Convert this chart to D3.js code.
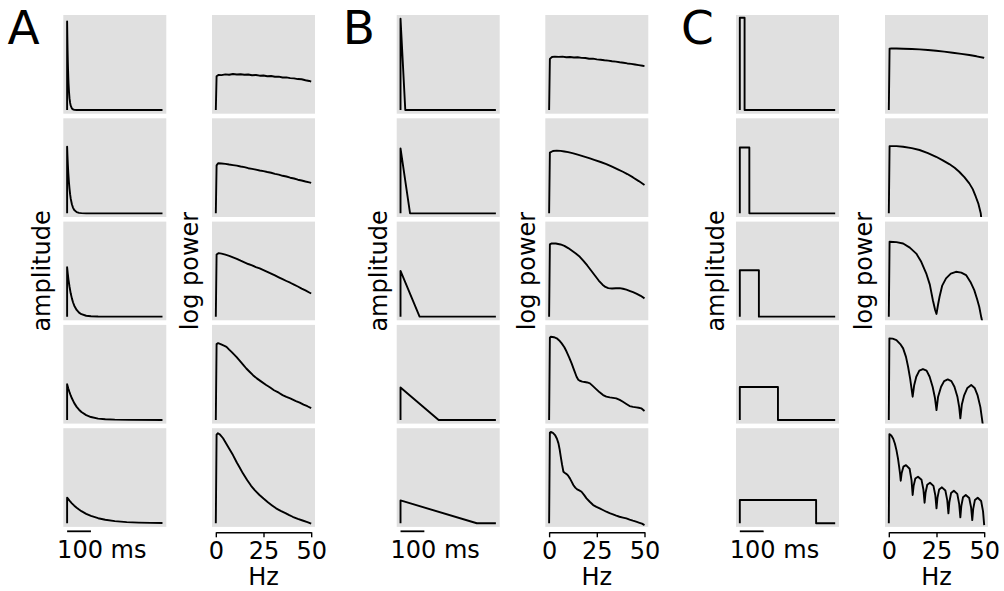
<!DOCTYPE html>
<html><head>
<meta charset="utf-8">
<title>kernels and spectra</title>
<script src="https://d3js.org/d3.v7.min.js"></script>
<style>
  body { margin: 0; background: white; }
  svg { display: block; font-family: "DejaVu Sans", sans-serif; }
  .panel { fill: #e0e0e0; }
  .trace { fill: none; stroke: black; stroke-width: 1.9px; stroke-linejoin: round; }
  .lbl { font-size: 24px; fill: black; }
  .big { font-size: 47px; fill: black; }
</style>
</head>
<body>
<svg id="fig" width="1004" height="591"></svg>
<script>

// ---- data ----
const groupNames = ["A", "B", "C"];
const freqTicks = [0, 25, 50];
const scaleBarMs = 100;

// time domain, [ms, amplitude]
const ampA = [
  [[0,0],[0,.97],[1,.8],[2,.65],[3,.53],[4,.436],[5,.357],[6,.29],[8,.196],[10,.13],[12.5,.08],[15,.048],[20,.018],[25,.007],[30,.002],[40,0],[400,0]],
  [[0,0],[0,.73],[1.5,.63],[3,.54],[5,.44],[7.5,.345],[10,.27],[12.5,.21],[15,.163],[20,.099],[25,.06],[30,.036],[40,.013],[50,.005],[60,.002],[80,0],[400,0]],
  [[0,0],[0,.54],[3,.465],[6,.40],[10,.33],[15,.255],[20,.20],[25,.155],[30,.12],[40,.073],[50,.044],[60,.027],[80,.01],[100,.004],[130,.001],[160,0],[400,0]],
  [[0,0],[0,.39],[5,.344],[10,.304],[15,.268],[20,.237],[30,.184],[40,.143],[50,.112],[60,.087],[80,.053],[100,.032],[130,.015],[160,.007],[200,.003],[260,.001],[400,0]],
  [[0,0],[0,.28],[10,.247],[20,.218],[30,.192],[40,.17],[50,.15],[60,.132],[80,.103],[100,.08],[130,.055],[160,.038],[200,.023],[250,.012],[300,.007],[350,.004],[400,.002]]
];
const ampB = [
  [[0,0],[0,1],[20,0],[400,0]],
  [[0,0],[0,.71],[40,0],[400,0]],
  [[0,0],[0,.5],[80,0],[400,0]],
  [[0,0],[0,.355],[160,0],[400,0]],
  [[0,0],[0,.25],[320,0],[400,0]]
];
const ampC = [
  [[0,0],[0,1.01],[20,1.01],[20,0],[400,0]],
  [[0,0],[0,.72],[40,.72],[40,0],[400,0]],
  [[0,0],[0,.507],[80,.507],[80,0],[400,0]],
  [[0,0],[0,.36],[160,.36],[160,0],[400,0]],
  [[0,0],[0,.255],[320,.255],[320,0],[400,0]]
];

// log power, [Hz, relative log power]
const powA = [
  [[0,0],[0.4,.37],[1.5,.385],[3,.382],[5,.39],[7,.386],[9,.394],[11,.389],[13,.392],[15,.386],[17,.389],[19,.381],[21,.384],[23,.376],[25,.378],[27,.37],[29,.372],[31,.364],[33,.366],[35,.356],[37,.357],[39,.349],[41,.347],[43,.339],[45,.337],[47,.326],[49,.318],[50,.31]],
  [[0,0],[0.4,.525],[1.2,.548],[3,.545],[5,.541],[7,.534],[9,.528],[11,.522],[13,.513],[15,.506],[17,.494],[19,.487],[21,.478],[23,.469],[25,.462],[27,.452],[29,.444],[31,.432],[33,.424],[35,.411],[37,.403],[39,.39],[41,.381],[43,.368],[45,.359],[47,.348],[49,.339],[50,.333]],
  [[0,0],[0.4,.68],[1.5,.695],[3,.69],[5,.678],[7,.665],[9,.648],[11,.632],[13,.612],[15,.594],[17,.576],[19,.562],[21,.543],[23,.527],[25,.508],[27,.49],[29,.47],[31,.451],[33,.43],[35,.41],[37,.39],[39,.371],[41,.35],[43,.33],[45,.307],[47,.287],[49,.264],[50,.253]],
  [[0,0],[0.4,.83],[1.2,.84],[2.5,.83],[4,.815],[5.6,.80],[7,.77],[8.5,.74],[10.8,.69],[12.5,.65],[14.5,.6],[16,.563],[17.7,.527],[19.5,.49],[21.5,.455],[23.5,.425],[26.4,.382],[28.5,.355],[30.5,.325],[33,.298],[35,.272],[37,.252],[39,.235],[42,.207],[44,.19],[46,.168],[48,.15],[50,.13]],
  [[0,0],[0.4,.97],[1.1,.985],[2.2,.97],[3.8,.93],[5.5,.87],[7.2,.81],[9,.746],[11,.665],[12.5,.61],[14.2,.546],[16.5,.47],[18.5,.41],[20.5,.36],[22.9,.309],[25,.27],[27.3,.23],[29.5,.195],[31.6,.163],[34,.135],[36.5,.11],[38.5,.088],[40.3,.071],[43,.048],[45.5,.03],[48,.012],[50,-.005]]
];
const powB = [
  [[0,0],[0.4,.56],[1.5,.58],[3,.585],[5,.582],[7,.584],[9,.578],[11,.581],[13,.575],[15,.577],[17,.571],[19,.569],[21,.561],[23,.563],[25,.554],[27,.551],[29,.545],[31,.541],[33,.534],[35,.53],[37,.523],[39,.518],[41,.51],[43,.505],[45,.499],[47,.492],[49,.485],[50,.481]],
  [[0,0],[0.4,.665],[2,.682],[4,.686],[6,.684],[8,.677],[10,.67],[12.7,.656],[15,.642],[18,.624],[21.4,.602],[24,.583],[27,.562],[30,.539],[33,.51],[36,.482],[38.7,.455],[41,.43],[44,.393],[47,.353],[50,.31]],
  [[0,0],[0.4,.79],[1.4,.802],[3.5,.80],[6,.79],[8,.775],[10,.75],[12,.72],[14,.69],[16.1,.655],[18,.61],[20,.56],[22,.505],[24,.45],[26,.395],[28,.35],[29.5,.325],[31,.312],[33,.308],[35,.31],[37,.312],[38.7,.305],[40.5,.295],[42.5,.28],[44,.268],[46,.25],[48,.228],[50,.20]],
  [[0,0],[0.4,.9],[0.9,.91],[2.5,.905],[4,.893],[5.3,.87],[6.6,.838],[8,.795],[9.2,.746],[10.5,.685],[11.8,.619],[13.1,.545],[14.4,.473],[15.3,.44],[16.1,.429],[17.4,.42],[18.7,.415],[20,.41],[21.4,.40],[23,.37],[24.8,.335],[26.5,.302],[28.3,.272],[30,.255],[31.8,.247],[33.5,.242],[35.2,.236],[37,.22],[38.7,.199],[40.5,.175],[42.2,.152],[44,.143],[45.7,.138],[47,.133],[48.3,.127],[50,.097]],
  [[0,0],[0.4,.99],[0.9,1.0],[2,.99],[3.1,.965],[4.1,.925],[4.9,.874],[5.5,.81],[6.1,.728],[6.8,.64],[7.5,.564],[8.3,.55],[9.2,.538],[10,.52],[10.9,.491],[11.8,.455],[12.7,.418],[13.7,.39],[14.7,.371],[15.8,.36],[17,.345],[18.3,.31],[19.6,.272],[21.3,.235],[23.1,.199],[24.8,.18],[26.5,.163],[28.2,.145],[30,.126],[31.7,.11],[33.5,.097],[35.2,.083],[36.9,.071],[38.7,.062],[40.5,.053],[42.2,.04],[43.9,.028],[45.6,.017],[47.4,.005],[48.7,-.005],[50,-.02]]
];
const powC = [
  [[0,0],[0.4,.672],[1.4,.675],[4,.674],[7.5,.671],[12,.668],[16.1,.664],[20.5,.657],[24.8,.649],[29,.639],[33.5,.627],[38,.615],[42.2,.602],[46,.588],[49.7,.572],[50,.57]],
  [[0,0],[0.4,.734],[1.4,.736],[4,.735],[7.5,.729],[12,.713],[16.1,.693],[20.5,.66],[24.8,.619],[28.3,.58],[31.7,.539],[34.5,.498],[36.9,.455],[39.6,.396],[42.2,.328],[44,.265],[45.6,.182],[46.9,.11],[48.2,.0],[49,-.15],[49.6,-.35],[50,-.6]],
  [[0,0],[0.4,.82],[4,.815],[7.5,.80],[11,.755],[14.4,.69],[17,.60],[19.6,.474],[21.5,.35],[23.1,.18],[24.2,.08],[25,.03],
   [25.8,.13],[26.6,.218],[28,.34],[30,.419],[32.5,.47],[35.2,.491],[38,.482],[40.5,.455],[42.8,.38],[44.8,.29],[46.3,.19],[47.4,.108],[48.5,-.01],[49.3,-.08],[50,-.25]],
  [[0,0],[0.3,.893],[2,.89],[4,.874],[6,.83],[7.5,.783],[9,.69],[10.1,.582],[11.2,.45],[12.5,.254],
   [13.3,.38],[14.4,.473],[16,.54],[17.9,.557],[19.8,.54],[21.4,.473],[23,.36],[24.2,.24],[25,.108],
   [25.8,.25],[27.4,.363],[29,.425],[30.9,.444],[32.8,.425],[34.4,.363],[36,.25],[36.9,.14],[37.5,.018],
   [38.3,.17],[39.5,.27],[41.2,.35],[43.2,.382],[45,.35],[46.5,.272],[48,.14],[49.2,-.04],[50,-.2]],
  [[0,0],[0.3,.975],[1.3,.96],[2.3,.925],[3.2,.87],[4.0,.80],[4.8,.71],[5.4,.62],[5.9,.54],[6.25,.465],
   [6.75,.55],[7.65,.619],[9.0,.636],[10.9,.596],[11.9,.472],[12.5,.309],
   [13.0,.409],[13.9,.489],[15.3,.509],[17.15,.475],[18.15,.366],[18.75,.224],
   [19.25,.333],[20.15,.421],[21.6,.443],[23.4,.409],[24.4,.303],[25,.163],
   [25.5,.278],[26.4,.37],[27.85,.393],[29.65,.358],[30.65,.25],[31.25,.108],
   [31.75,.232],[32.65,.331],[34.1,.356],[35.9,.321],[36.9,.21],[37.5,.065],
   [38,.187],[38.9,.285],[40.35,.309],[42.15,.276],[43.15,.172],[43.75,.035],
   [44.25,.157],[45.15,.255],[46.6,.279],[48.4,.243],[49.4,.13],[50,-.02]]
];

// ---- layout ----
const svg = d3.select("#fig");
const rowTops = [15, 118.3, 221.6, 324.9, 428.2];
const panelW = 103, panelH = 98.7;
const groups = [
  {name: groupNames[0], tx: 63.3,  fx: 212,   ampX: 50,    powX: 198.3, letterX: 7.5,   amp: ampA, pow: powA},
  {name: groupNames[1], tx: 396.7, fx: 545.3, ampX: 386.7, powX: 535,   letterX: 342.8, amp: ampB, pow: powB},
  {name: groupNames[2], tx: 736,   fx: 885,   ampX: 724.3, powX: 871.7, letterX: 681,   amp: ampC, pow: powC}
];
const midY = rowTops[0] + (rowTops[4] + panelH - rowTops[0]) / 2;

const defs = svg.append("defs");
let clipId = 0;

function drawPanel(x0, y0, series, xDomain) {
  const xs = d3.scaleLinear().domain(xDomain).range([x0, x0 + panelW]);
  const ys = d3.scaleLinear().domain([-0.04, 1.04]).range([y0 + panelH, y0]);
  const id = "clip" + (clipId++);
  defs.append("clipPath").attr("id", id)
    .append("rect").attr("x", x0).attr("y", y0).attr("width", panelW).attr("height", panelH);
  svg.append("rect").attr("class", "panel")
    .attr("x", x0).attr("y", y0).attr("width", panelW).attr("height", panelH);
  const line = d3.line().x(d => xs(d[0])).y(d => ys(d[1]));
  svg.append("path").attr("class", "trace")
    .attr("clip-path", `url(#${id})`)
    .attr("d", line(series));
  return xs;
}

groups.forEach(g => {
  let tScale, fScale;
  rowTops.forEach((top, i) => {
    tScale = drawPanel(g.tx, top, g.amp[i], [-16, 416]);
    fScale = drawPanel(g.fx, top, g.pow[i], [-2, 52]);
  });

  // big letter
  svg.append("text").attr("class", "big")
    .attr("x", g.letterX).attr("y", 44).text(g.name);

  // y labels
  svg.append("text").attr("class", "lbl")
    .attr("text-anchor", "middle")
    .attr("transform", `translate(${g.ampX},${midY})rotate(-90)`)
    .text("amplitude");
  svg.append("text").attr("class", "lbl")
    .attr("text-anchor", "middle")
    .attr("transform", `translate(${g.powX},${midY})rotate(-90)`)
    .text("log power");

  // 100 ms scale bar
  svg.append("line")
    .attr("x1", tScale(0)).attr("x2", tScale(scaleBarMs))
    .attr("y1", 531.3).attr("y2", 531.3)
    .attr("stroke", "black").attr("stroke-width", 1.8);
  svg.append("text").attr("class", "lbl")
    .attr("x", tScale(0) - 10).attr("y", 558)
    .text(scaleBarMs + " ms");

  // frequency axis, spine only from 0 to 50 Hz
  const axScale = d3.scaleLinear().domain([0, 50]).range([fScale(0), fScale(50)]);
  const ax = svg.append("g")
    .attr("transform", "translate(0,532.3)")
    .call(d3.axisBottom(axScale).tickValues(freqTicks).tickSize(5).tickSizeOuter(0).tickPadding(4.5));
  ax.attr("font-size", 24).attr("font-family", "DejaVu Sans");
  ax.selectAll("path, line").attr("stroke-width", 1.4);
  svg.append("text").attr("class", "lbl")
    .attr("text-anchor", "middle")
    .attr("x", fScale(25)).attr("y", 585)
    .text("Hz");
});

</script>
</body>
</html>
